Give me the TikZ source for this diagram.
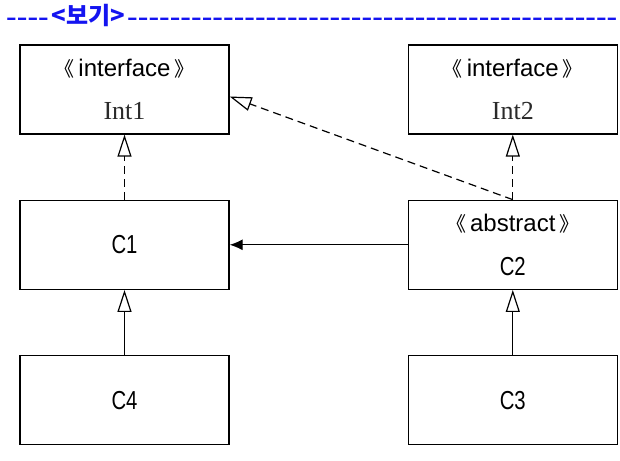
\documentclass[tikz,border=0pt]{standalone}
\usepackage{fontspec}
\setmainfont{Liberation Serif}
\setsansfont{Liberation Sans}
\newfontfamily\cjk{Noto Sans CJK KR}
\newfontfamily\hdrdash[FakeStretch=1.6]{Liberation Sans}
\newfontfamily\clsfont[FakeStretch=0.78]{Liberation Sans}
\usetikzlibrary{positioning}
\usetikzlibrary{arrows.meta}
\definecolor{colorHdr}{HTML}{1414F0}
\definecolor{colorName}{HTML}{2A2A2A}
\newcommand{\stereo}[1]{{\cjk\fontsize{20}{20}\selectfont 《}\,{\sffamily #1}\,{\cjk\fontsize{20}{20}\selectfont 》}}
\newcommand{\ifname}[1]{{\color{colorName}\rmfamily\fontsize{26}{26}\selectfont #1}}
\newcommand{\clname}[1]{{\clsfont\fontsize{26}{26}\selectfont #1}}
\newcommand{\dashes}[1]{{\hdrdash\fontsize{20}{20}\selectfont #1}}

\begin{document}
\begin{tikzpicture}[x=1pt,y=1pt,node distance=65pt and 178pt,>=Latex,every node/.append style={align=center},cls/.style={draw, line width=1.3pt, minimum width=209pt, minimum height=89pt, inner sep=0pt, font=\fontsize{24}{43.5}\selectfont},real/.style={-{Triangle[open,length=22pt,width=14pt]}, dash pattern=on 8pt off 5pt, line width=1.2pt},inh/.style={-{Triangle[open,length=22pt,width=14pt]}, line width=1.2pt},assoc/.style={-{Latex[length=13pt,width=11pt]}, line width=1.2pt},]
    \useasboundingbox (0,0) rectangle (620,-460);
    \node [anchor=west, inner sep=0pt, text=colorHdr, font=\bfseries] (hdr) at (6,-16) {\dashes{----}\kern3pt{\cjk\fontsize{24}{24}\selectfont <보기>}\kern2pt\dashes{----------------------------------------------}};
    \node [cls] (Int1) at (124.5,-89.5) {\stereo{interface}\\\ifname{Int1}};
    \node [cls, right=of Int1] (Int2) {\stereo{interface}\\\ifname{Int2}};
    \node [cls, below=of Int1] (C1) {\clname{C1}};
    \node [cls, below=of Int2] (C2) {\stereo{abstract}\\\clname{C2}};
    \node [cls, below=of C1] (C4) {\clname{C4}};
    \node [cls, below=of C2] (C3) {\clname{C3}};
    \path[real] (C1) edge (Int1);
    \path[real] (C2) edge (Int2);
    \path[real] (C2.north) edge ([yshift=-7pt]Int1.east);
    \path[assoc] (C2) edge (C1);
    \path[inh] (C4) edge (C1);
    \path[inh] (C3) edge (C2);
\end{tikzpicture}
\end{document}
